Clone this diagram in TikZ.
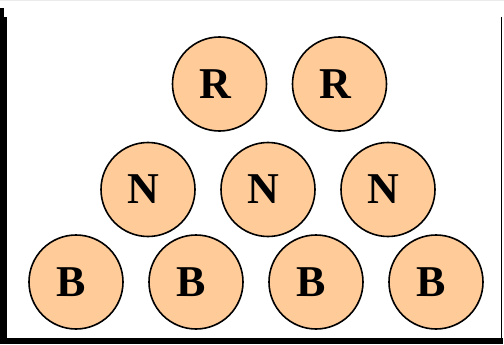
\documentclass[tikz,border=0pt]{standalone}
\usepackage{fontspec}
\setmainfont{Liberation Serif}
\definecolor{peach}{RGB}{255,204,153}
\begin{document}
\begin{tikzpicture}[x=1pt,y=-1pt,
  ball/.style={circle,draw=black,line width=1.6pt,fill=peach,minimum size=94pt,inner sep=0pt,
    font=\fontsize{44}{44}\selectfont\bfseries,execute at begin node={\kern-9pt}}]
\useasboundingbox (0,0) rectangle (504,345);
\fill[white] (0,0) rectangle (504,345);
% frame
\draw[black!8,line width=1pt] (0,0.5) -- (504,0.5);
\fill[black] (0,17) rectangle (7,343.5);
\fill[black] (0,8) rectangle (4,17);
\fill[black] (0,338) rectangle (503,343.5);
\draw[black,line width=1.2pt] (501.8,17) -- (501.8,338);
% balls
\node[ball] (r1) at (219.5,84) {R};
\node[ball] (r2) at (339.5,84) {R};
\node[ball] (n1) at (148,189.5) {N};
\node[ball] (n2) at (268,189.5) {N};
\node[ball] (n3) at (388,189.5) {N};
\node[ball] (b1) at (76,282) {B};
\node[ball] (b2) at (196,282) {B};
\node[ball] (b3) at (316,282) {B};
\node[ball] (b4) at (436,282) {B};
\end{tikzpicture}
\end{document}
